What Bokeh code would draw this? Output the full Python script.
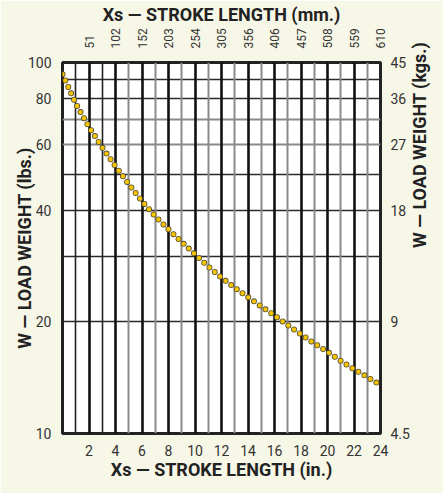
from bokeh.plotting import figure
from bokeh.models import LogAxis, LinearAxis, FixedTicker, Grid
from bokeh.embed import file_html
from bokeh.resources import INLINE
import math

# ---- data ----
stroke_in = [0, 1, 2, 3, 4, 5, 6, 7, 8, 9, 10, 11, 12, 13, 14, 15, 16, 17, 18, 19, 20, 21, 22, 23, 24]
load_lbs = [93.0, 77.5, 67.0, 59.0, 52.5, 47.0, 42.3, 38.5, 35.5, 32.8, 30.4, 28.2, 26.3, 24.7,
            23.3, 22.0, 20.8, 19.6, 18.5, 17.5, 16.6, 15.7, 14.9, 14.2, 13.5]

x_ticks_in = [2, 4, 6, 8, 10, 12, 14, 16, 18, 20, 22, 24]
x_labels_in = ["2", "4", "6", "8", "10", "12", "14", "16", "18", "20", "22", "24"]
x_labels_mm = ["51", "102", "152", "203", "254", "305", "356", "406", "457", "508", "559", "610"]
y_ticks_lbs = [10, 20, 40, 60, 80, 100]
y_labels_lbs = ["10", "20", "40", "60", "80", "100"]
y_labels_kgs = ["4.5", "9", "18", "27", "36", "45"]

grid_x_even = [2, 4, 6, 8, 10, 12, 14, 16, 18, 20, 22]
grid_x_odd_dark = [1, 3]
grid_x_odd_gray = [5, 7, 9, 11, 13, 15, 17, 19, 21, 23]
grid_y_dark = [20, 30, 40, 50, 80, 90]
grid_y_gray = [60, 70]

FONT = "Roboto"
BG = "#F7F7E7"

p = figure(width=443, height=493, x_range=(0, 24), y_range=(10, 100), y_axis_type="log",
           output_backend="svg", toolbar_location=None,
           min_border_left=62, min_border_right=55, min_border_top=62, min_border_bottom=60)
p.border_fill_color = BG
p.background_fill_color = "white"
p.outline_line_color = "#222222"
p.outline_line_width = 3
p.xgrid.visible = False
p.ygrid.visible = False

def style_axis(ax, labels_map, size="14px"):
    ax.major_label_overrides = labels_map
    ax.major_tick_line_color = None
    ax.minor_tick_line_color = None
    ax.axis_line_color = None
    ax.major_label_text_font = FONT
    ax.major_label_text_font_size = size
    ax.major_label_text_color = "#333333"
    ax.axis_label_text_font = FONT
    ax.axis_label_text_font_style = "bold"
    ax.axis_label_text_font_size = "18px"
    ax.axis_label_text_color = "#222222"

# left axis
la = p.yaxis[0]
la.ticker = FixedTicker(ticks=y_ticks_lbs)
style_axis(la, {t: s for t, s in zip(y_ticks_lbs, y_labels_lbs)})
la.axis_label = "W — LOAD WEIGHT (lbs.)"
la.major_label_standoff = 5
la.axis_label_standoff = -10

# bottom axis
ba = p.xaxis[0]
ba.ticker = FixedTicker(ticks=x_ticks_in)
style_axis(ba, {t: s for t, s in zip(x_ticks_in, x_labels_in)})
ba.axis_label = "Xs — STROKE LENGTH (in.)"
ba.major_label_standoff = 5
ba.axis_label_standoff = 0

# right axis
ra = LogAxis(ticker=FixedTicker(ticks=y_ticks_lbs))
style_axis(ra, {t: s for t, s in zip(y_ticks_lbs, y_labels_kgs)})
ra.axis_label = "W — LOAD WEIGHT (kgs.)"
ra.major_label_standoff = 4
ra.axis_label_standoff = 7
try:
    ra.axis_label_orientation = math.pi / 2
except Exception:
    pass
p.add_layout(ra, "right")

# top axis
ta = LinearAxis(ticker=FixedTicker(ticks=x_ticks_in))
style_axis(ta, {t: s for t, s in zip(x_ticks_in, x_labels_mm)}, size="12px")
ta.major_label_orientation = math.pi / 2
ta.axis_label = "Xs — STROKE LENGTH (mm.)"
ta.major_label_standoff = 8
ta.axis_label_standoff = 0
p.add_layout(ta, "above")

# grids
def add_grid(dim, ticks, color, width):
    g = Grid(dimension=dim, ticker=FixedTicker(ticks=ticks), grid_line_color=color,
             grid_line_width=width)
    p.add_layout(g)

add_grid(1, grid_y_dark, "#2a2a2a", 1.6)
add_grid(1, grid_y_gray, "#8a8a8a", 2)
add_grid(0, grid_x_odd_gray, "#8a8a8a", 2)
add_grid(0, grid_x_odd_dark, "#222222", 1.6)
add_grid(0, grid_x_even, "#111111", 2.6)

# dotted curve
p.line(stroke_in, load_lbs, line_color="#5a5030", line_width=6, line_dash="0 7", line_cap="round")
p.line(stroke_in, load_lbs, line_color="#F5C400", line_width=4.4, line_dash="0 7", line_cap="round")

open("out.html", "w").write(file_html(p, INLINE))
